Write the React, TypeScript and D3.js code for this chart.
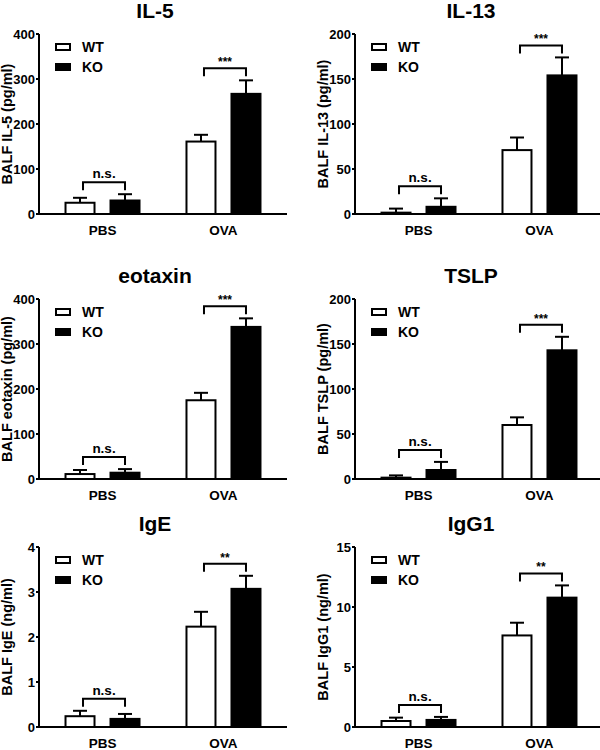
import React from "react";
import * as d3 from "d3";

const titles = ["IL-5", "IL-13", "eotaxin", "TSLP", "IgE", "IgG1"];
const yLabels = [
  "BALF IL-5 (pg/ml)",
  "BALF IL-13 (pg/ml)",
  "BALF eotaxin (pg/ml)",
  "BALF TSLP (pg/ml)",
  "BALF IgE (ng/ml)",
  "BALF IgG1 (ng/ml)",
];
const yMax = [400, 200, 400, 200, 4, 15];
const yTickStep = [100, 50, 100, 50, 1, 5];
const groups = ["PBS", "OVA"];
const series = ["WT", "KO"];

const wtPBS = [25, 1.5, 11, 1.5, 0.24, 0.5];
const wtPBSsem = [11, 4.5, 9, 2.5, 0.12, 0.28];
const koPBS = [30, 8, 14, 10, 0.18, 0.59];
const koPBSsem = [14, 9.4, 8, 9, 0.11, 0.25];
const wtOVA = [161, 71, 175, 60, 2.23, 7.63];
const wtOVAsem = [15, 14, 16.5, 8.5, 0.33, 1.06];
const koOVA = [267, 154, 338, 143, 3.07, 10.78];
const koOVAsem = [30, 20, 19, 15, 0.29, 1.02];
const sigPBS = ["n.s.", "n.s.", "n.s.", "n.s.", "n.s.", "n.s."];
const sigOVA = ["***", "***", "***", "***", "**", "**"];

const FONT = "'Liberation Sans', Arial, Helvetica, sans-serif";
const colX = [39, 355];
const rowY = [34, 299, 547];
const W = 248;
const H = 180;

function Panel({ i }: { i: number }) {
  const x0 = colX[i % 2];
  const y0 = rowY[Math.floor(i / 2)];
  const y = d3.scaleLinear().domain([0, yMax[i]]).range([H, 0]);
  const x = d3.scalePoint().domain(groups).range([0, W]).padding(0.525);
  const sub = d3.scalePoint().domain(series).range([-22.5, 22.5]);
  const bw = 29;
  const ticks = d3.range(0, yMax[i] + yTickStep[i] / 2, yTickStep[i]);
  const data = [
    { g: "PBS", s: "WT", v: wtPBS[i], e: wtPBSsem[i] },
    { g: "PBS", s: "KO", v: koPBS[i], e: koPBSsem[i] },
    { g: "OVA", s: "WT", v: wtOVA[i], e: wtOVAsem[i] },
    { g: "OVA", s: "KO", v: koOVA[i], e: koOVAsem[i] },
  ];
  const cx = (d: { g: string; s: string }) => (x(d.g) as number) + (sub(d.s) as number);
  const sigs = [
    { g: "PBS", label: sigPBS[i], top: Math.max(wtPBS[i] + wtPBSsem[i], koPBS[i] + koPBSsem[i]) },
    { g: "OVA", label: sigOVA[i], top: Math.max(wtOVA[i] + wtOVAsem[i], koOVA[i] + koOVAsem[i]) },
  ];
  return (
    <g transform={`translate(${x0},${y0})`} fontFamily={FONT} fontWeight="bold">
      <text x={W / 2 - 8} y={-16} textAnchor="middle" fontSize={21}>
        {titles[i]}
      </text>
      <text
        transform={`translate(-27,${H / 2}) rotate(-90)`}
        textAnchor="middle"
        fontSize={14.5}
      >
        {yLabels[i]}
      </text>
      {ticks.map((t) => (
        <g key={t} transform={`translate(0,${y(t)})`}>
          <line x1={-3} x2={0} stroke="#000" strokeWidth={2} />
          <text x={-4} dy="0.36em" textAnchor="end" fontSize={13}>
            {t}
          </text>
        </g>
      ))}
      {data.map((d, k) => (
        <g key={k}>
          <line
            x1={cx(d)}
            x2={cx(d)}
            y1={y(d.v)}
            y2={y(d.v + d.e)}
            stroke="#000"
            strokeWidth={2}
          />
          <line
            x1={cx(d) - 7}
            x2={cx(d) + 7}
            y1={y(d.v + d.e)}
            y2={y(d.v + d.e)}
            stroke="#000"
            strokeWidth={2}
          />
          <rect
            x={cx(d) - bw / 2}
            y={y(d.v)}
            width={bw}
            height={H - y(d.v)}
            fill={d.s === "WT" ? "#fff" : "#000"}
            stroke="#000"
            strokeWidth={2}
          />
        </g>
      ))}
      {sigs.map((s) => {
        const l = (x(s.g) as number) + (sub("WT") as number) + 3;
        const r = (x(s.g) as number) + (sub("KO") as number);
        const by = y(s.top) - 12;
        return (
          <g key={s.g}>
            <path
              d={`M${l},${by + 8}V${by}H${r}V${by + 8}`}
              fill="none"
              stroke="#000"
              strokeWidth={2}
            />
            <text
              x={(l + r) / 2}
              y={s.label === "n.s." ? by - 4 : by - 2}
              textAnchor="middle"
              fontSize={s.label === "n.s." ? 13.5 : 12}
            >
              {s.label}
            </text>
          </g>
        );
      })}
      <line x1={0} x2={0} y1={0} y2={H + 1} stroke="#000" strokeWidth={2} />
      <line x1={-1} x2={W} y1={H} y2={H} stroke="#000" strokeWidth={2} />
      {groups.map((g) => (
        <text key={g} x={x(g)} y={H + 21} textAnchor="middle" fontSize={13.5}>
          {g}
        </text>
      ))}
      {series.map((s, k) => (
        <g key={s} transform={`translate(17,${13 + k * 20})`}>
          <rect
            x={0}
            y={-3}
            width={14}
            height={6}
            fill={s === "WT" ? "#fff" : "#000"}
            stroke="#000"
            strokeWidth={2}
          />
          <text x={26} dy="0.36em" fontSize={14}>
            {s}
          </text>
        </g>
      ))}
    </g>
  );
}

export default function App() {
  return (
    <svg
      width={600}
      height={750}
      style={{ position: "absolute", left: 0, top: 0, background: "#fff" }}
    >
      <rect width={600} height={750} fill="#fff" />
      {titles.map((_, i) => (
        <Panel key={i} i={i} />
      ))}
    </svg>
  );
}
